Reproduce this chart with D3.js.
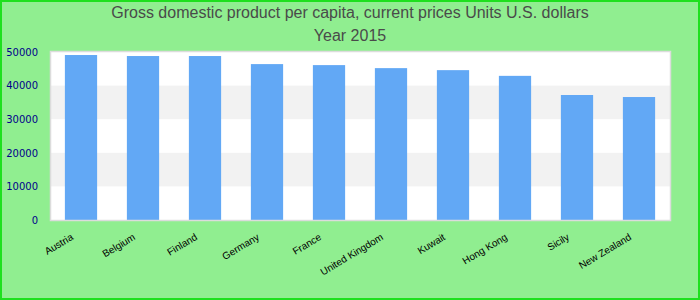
<!DOCTYPE html>
<html><head><meta charset="utf-8">
<script src="https://cdn.jsdelivr.net/npm/d3@7"></script>
<style>body{margin:0;padding:0;background:#fff}svg{display:block}</style>
</head><body>
<svg id="chart" width="700" height="300"></svg>
<script>
const categories = ["Austria","Belgium","Finland","Germany","France","United Kingdom","Kuwait","Hong Kong","Sicily","New Zealand"];
const values = [49100,48800,48800,46400,46100,45200,44600,42900,37200,36600];
const yTicks = [0,10000,20000,30000,40000,50000];
const titleLines = ["Gross domestic product per capita, current prices Units U.S. dollars","Year 2015"];

const svg = d3.select("#chart");
const W = 700, H = 300;
const m = {left:50, right:30, top:52, bottom:80};

svg.append("rect").attr("x",1).attr("y",1).attr("width",W-2).attr("height",H-2)
  .attr("fill","#90ee90").attr("stroke","#1ee01e").attr("stroke-width",2);

const x = d3.scaleBand().domain(categories).range([m.left, W-m.right]).paddingInner(0.48).paddingOuter(0.24);
const y = d3.scaleLinear().domain([0,50000]).range([H-m.bottom, m.top]);

svg.append("rect").attr("x",m.left).attr("y",m.top-0.5).attr("width",W-m.left-m.right).attr("height",H-m.bottom-m.top+0.5)
  .attr("fill","#fff");
const bands = d3.pairs(yTicks).filter((d,i)=>i%2===1);
svg.selectAll("rect.band").data(bands).join("rect").attr("class","band")
  .attr("x",m.left).attr("width",W-m.left-m.right)
  .attr("y",d=>y(d[1])).attr("height",d=>y(d[0])-y(d[1])).attr("fill","#f2f2f2");

svg.selectAll("rect.bar").data(values).join("rect").attr("class","bar")
  .attr("x",(d,i)=>x(categories[i])).attr("width",x.bandwidth())
  .attr("y",d=>y(d)).attr("height",d=>y(0)-y(d)).attr("fill","#62a8f5");

svg.append("rect").attr("x",m.left+0.5).attr("y",m.top-0.5).attr("width",W-m.left-m.right).attr("height",H-m.bottom-m.top+1)
  .attr("fill","none").attr("stroke","#dcdcdc").attr("stroke-width",1.5);

const yAxis = svg.append("g").attr("transform",`translate(${m.left},0)`)
  .call(d3.axisLeft(y).tickValues(yTicks).tickFormat(d3.format("d")).tickSize(0).tickPadding(12));
yAxis.select(".domain").remove();
yAxis.selectAll("text").attr("fill","#00008b").style("font-family","DejaVu Sans").style("font-size","10px");

const xAxis = svg.append("g").attr("transform",`translate(0,${H-m.bottom})`)
  .call(d3.axisBottom(x).tickSize(0));
xAxis.select(".domain").remove();
xAxis.selectAll("text").attr("fill","#000").style("font-family","Liberation Sans, Arial").style("font-size","10px")
  .attr("text-anchor","end").attr("dy",0).attr("y",0)
  .attr("transform","translate(-7,19) rotate(-31)");

svg.selectAll("text.title").data(titleLines).join("text").attr("class","title")
  .attr("x",W/2).attr("y",(d,i)=>18+i*23).attr("text-anchor","middle")
  .attr("fill","#4a4a4a").style("font-family","Liberation Sans, Arial").style("font-size","16px")
  .text(d=>d);
</script>
</body></html>
